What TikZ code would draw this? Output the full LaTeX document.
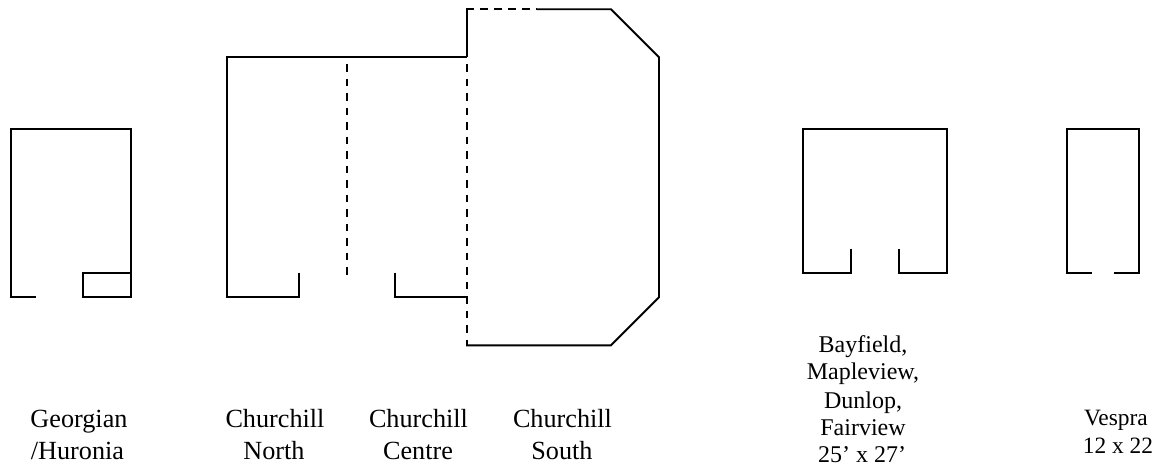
\documentclass[tikz,border=0pt]{standalone}
\usepackage{fontspec}
\setmainfont{Liberation Serif}
\tikzset{
  wall/.style={draw=black,line width=1.9pt,line cap=butt,line join=miter},
  openv/.style={wall,dash pattern=on 7.5pt off 7pt,dash phase=7.5pt},
  openh/.style={wall,dash pattern=on 7.5pt off 6.5pt},
  lab/.style={inner sep=0pt,align=center,anchor=base,font=\fontsize{26.2pt}{32pt}\selectfont},
  labr/.style={inner sep=0pt,align=center,anchor=base,font=\fontsize{24pt}{27.7pt}\selectfont},
  labv/.style={inner sep=0pt,align=center,anchor=base,font=\fontsize{23.4pt}{27.7pt}\selectfont}
}
\begin{document}
\begin{tikzpicture}[x=1pt,y=-1pt]
\useasboundingbox (0,0) rectangle (1157,465);
% Georgian
\draw[wall] (35.5,297.3) -- (11,297.3) -- (11,129.3) -- (131,129.3) -- (131,297.3) -- (83,297.3) -- (83,273.3) -- (131,273.3);
% Churchill
\draw[wall] (299,273) -- (299,297.3) -- (227.3,297.3) -- (227.3,57.3) -- (467,57.3);
\draw[openv] (347,57.3) -- (347,275);
\draw[wall] (395,273) -- (395,297.3) -- (467,297.3);
\draw[wall] (467,57.3) -- (467,9.3);
\draw[openh] (466,9.3) -- (537,9.3);
\draw[wall] (537,9.3) -- (611,9.3) -- (659,57.3) -- (659,297.3) -- (611,345.3) -- (466,345.3);
\draw[openv] (467,57.3) -- (467,346);
% Bayfield
\draw[wall] (851,249) -- (851,273.3) -- (803,273.3) -- (803,129.3) -- (947,129.3) -- (947,273.3) -- (899,273.3) -- (899,249);
% Vespra
\draw[wall] (1091.5,273.3) -- (1067,273.3) -- (1067,129.3) -- (1139,129.3) -- (1139,273.3) -- (1114,273.3);
% labels
\node[lab] (g1) at (79,427) {Georgian};
\node[lab] (g2) at (77.5,459) {/Huronia};
\node[lab] (n1) at (275,427) {Churchill};
\node[lab] (n2) at (274,459) {North};
\node[lab] (c1) at (418.5,427) {Churchill};
\node[lab] (c2) at (418,459) {Centre};
\node[lab] (s1) at (562.5,427) {Churchill};
\node[lab] (s2) at (562,459) {South};
\node[labr] (b1) at (863,352) {Bayfield,};
\node[labr] (b2) at (863,379.5) {Mapleview,};
\node[labr] (b3) at (863,408) {Dunlop,};
\node[labr] (b4) at (863,435.5) {Fairview};
\node[labr] (b5) at (862,462.5) {25’ x 27’};
\node[labv] (v1) at (1116,425) {Vespra};
\node[labv] (v2) at (1118,453) {12 x 22};
\end{tikzpicture}
\end{document}
